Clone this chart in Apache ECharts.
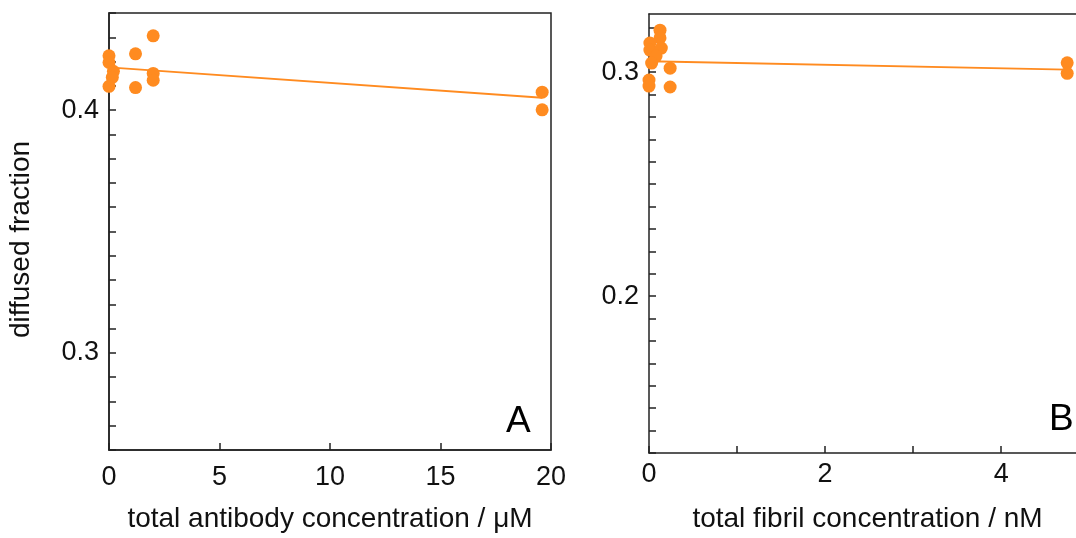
<!DOCTYPE html>
<html><head><meta charset="utf-8">
<script src="https://cdn.jsdelivr.net/npm/echarts@6/dist/echarts.min.js"></script>
<style>html,body{margin:0;padding:0;background:#fff}#c{width:1076px;height:538px}</style>
</head><body><div id="c"></div>
<script>
// Panel A: antibody
const xA = [0, 0, 0.2, 0.15, 0, 1.2, 1.2, 2, 2, 2, 19.6, 19.6];
const yA = [0.4224, 0.4196, 0.4160, 0.4135, 0.4098, 0.4232, 0.4093, 0.4306, 0.4151, 0.4123, 0.4074, 0.4001];
const fitAx = [0, 19.6];
const fitAy = [0.4176, 0.4051];
// Panel B: fibril
const xB = [0.125, 0.125, 0.01, 0.01, 0.14, 0.08, 0.03, 0.24, 0.24, 0, 0, 4.75, 4.75];
const yB = [0.3188, 0.3153, 0.3130, 0.3099, 0.3108, 0.3072, 0.3041, 0.3018, 0.2934, 0.2965, 0.2938, 0.3042, 0.2995];
const fitBx = [0, 4.75];
const fitBy = [0.3049, 0.3012];
const xTicksA = [0, 5, 10, 15, 20];
const xTicksB = [0, 2, 4];
const yTicksA = [0.3, 0.4];
const yTicksB = [0.2, 0.3];

const orange = '#FF8B20';
const ink = '#111';
const font = 'Liberation Sans, Arial, sans-serif';
const zip = (a, b) => a.map((v, i) => [v, b[i]]);
const showIf = list => v => list.some(t => Math.abs(t - v) < 1e-6) ? String(+v.toFixed(2)) : '';

const chart = echarts.init(document.getElementById('c'), null, {renderer: 'canvas'});
const axisLine = {show: true, lineStyle: {color: '#222', width: 1.5}};
const tick = {show: true, inside: true, length: 7, lineStyle: {color: '#222', width: 1.5}};
chart.setOption({
  animation: false,
  grid: [
    {left: 109, top: 13, width: 442, height: 440, show: true, borderColor: '#222', borderWidth: 1.5, backgroundColor: 'transparent'},
    {left: 649, top: 14, width: 427, height: 439, show: false}
  ],
  xAxis: [
    {gridIndex: 0, type: 'value', min: 0, max: 20, interval: 5, splitLine: {show: false}, axisLine, axisTick: tick,
     axisLabel: {color: ink, fontSize: 27, fontFamily: font, margin: 14, formatter: showIf(xTicksA)},
     name: 'total antibody concentration / \u03bcM', nameLocation: 'middle', nameGap: 55,
     nameTextStyle: {color: ink, fontSize: 28, fontFamily: font}},
    {gridIndex: 1, type: 'value', min: 0, max: 4.85, interval: 1, splitLine: {show: false}, axisLine, axisTick: tick,
     axisLabel: {color: ink, fontSize: 27, fontFamily: font, margin: 8, formatter: showIf(xTicksB), showMaxLabel: false},
     name: 'total fibril concentration / nM', nameLocation: 'middle', nameGap: 52,
     nameTextStyle: {color: ink, fontSize: 28, fontFamily: font, padding: [0, 0, 0, 10]}},
    {gridIndex: 1, type: 'value', position: 'top', min: 0, max: 4.85, splitLine: {show: false}, axisLine,
     axisTick: {show: false}, axisLabel: {show: false}}
  ],
  yAxis: [
    {gridIndex: 0, type: 'value', min: 0.26, max: 0.44, interval: 0.01, splitLine: {show: false}, axisLine, axisTick: tick,
     axisLabel: {color: ink, fontSize: 27, fontFamily: font, margin: 10, formatter: showIf(yTicksA)},
     name: 'diffused fraction', nameLocation: 'middle', nameGap: 74,
     nameTextStyle: {color: ink, fontSize: 28, fontFamily: font, padding: [0, 16, 0, 0]}},
    {gridIndex: 1, type: 'value', min: 0.13, max: 0.326, interval: 0.01, splitLine: {show: false}, axisLine, axisTick: tick,
     axisLabel: {color: ink, fontSize: 27, fontFamily: font, margin: 10, formatter: showIf(yTicksB), showMaxLabel: false}}
  ],
  series: [
    {type: 'line', xAxisIndex: 0, yAxisIndex: 0, data: zip(fitAx, fitAy), symbol: 'none', lineStyle: {color: orange, width: 1.8}, z: 1},
    {type: 'scatter', xAxisIndex: 0, yAxisIndex: 0, data: zip(xA, yA), symbolSize: 13, itemStyle: {color: orange, opacity: 1}, z: 2},
    {type: 'line', xAxisIndex: 1, yAxisIndex: 1, data: zip(fitBx, fitBy), symbol: 'none', lineStyle: {color: orange, width: 1.8}, z: 1},
    {type: 'scatter', xAxisIndex: 1, yAxisIndex: 1, data: zip(xB, yB), symbolSize: 13, itemStyle: {color: orange, opacity: 1}, z: 2}
  ],
  graphic: [
    {type: 'text', left: 506, top: 403, style: {text: 'A', fontSize: 37, fontFamily: font, fill: '#000'}},
    {type: 'text', left: 1049, top: 401, style: {text: 'B', fontSize: 37, fontFamily: font, fill: '#000'}}
  ]
});
</script></body></html>
